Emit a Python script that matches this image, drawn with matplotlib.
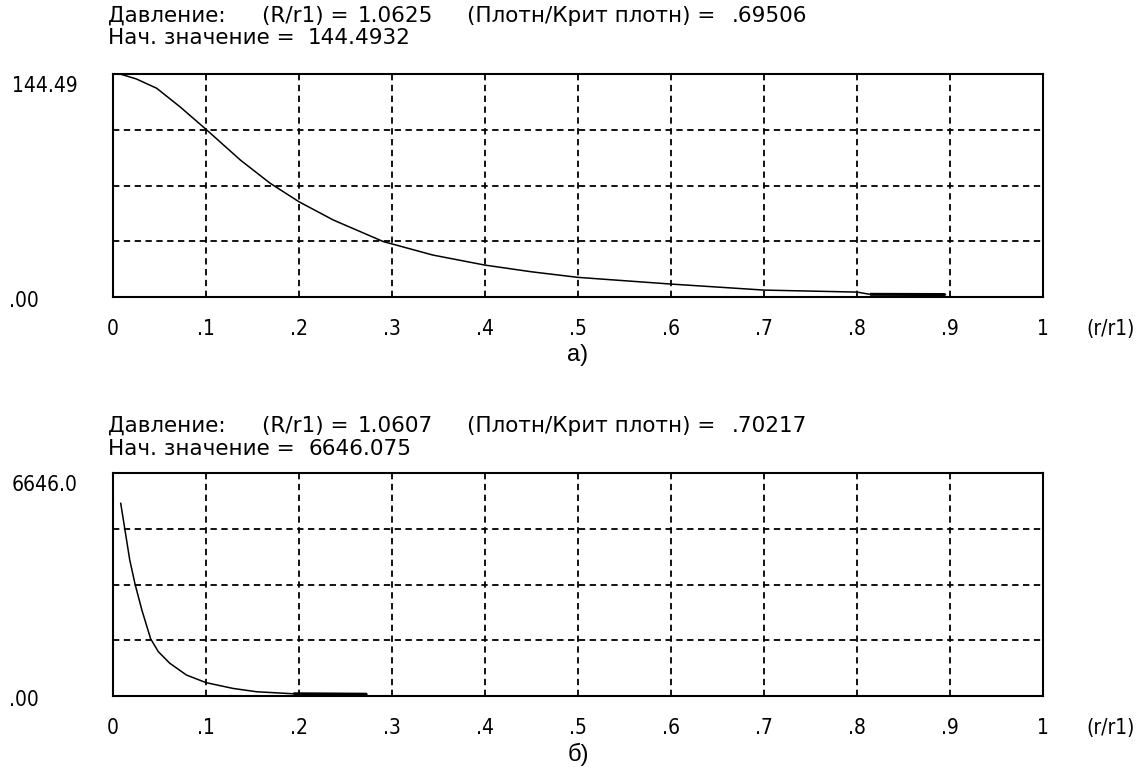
import matplotlib
matplotlib.use("Agg")
import matplotlib.pyplot as plt

# ---------------- data ----------------
x_ticks = [0, 0.1, 0.2, 0.3, 0.4, 0.5, 0.6, 0.7, 0.8, 0.9, 1.0]
x_tick_labels = ["0", ".1", ".2", ".3", ".4", ".5", ".6", ".7", ".8", ".9", "1"]

# chart a)
a_max = 144.4932
a_x = [0.0075, 0.025, 0.047, 0.072, 0.10, 0.137, 0.169, 0.20, 0.237, 0.291, 0.30,
       0.344, 0.40, 0.45, 0.50, 0.60, 0.70, 0.80, 0.814, 0.895]
a_frac = [1.0, 0.978, 0.936, 0.853, 0.752, 0.614, 0.51, 0.427, 0.345, 0.248, 0.238,
          0.188, 0.143, 0.113, 0.088, 0.058, 0.031, 0.022, 0.012, 0.011]
a_y = [f * a_max for f in a_frac]

# chart б)
b_max = 6646.075
b_x = [0.0083, 0.0129, 0.018, 0.0237, 0.031, 0.0405, 0.0487, 0.061, 0.079,
       0.10, 0.129, 0.1545, 0.194, 0.273]
b_frac = [0.864, 0.744, 0.61, 0.502, 0.386, 0.256, 0.199, 0.147, 0.094,
          0.06, 0.034, 0.019, 0.010, 0.008]
b_y = [f * b_max for f in b_frac]

panels = [
    dict(x=a_x, y=a_y, ymax=a_max, top_label="144.49",
         line1=["Давление:", "(R/r1) =", "1.0625", "(Плотн/Крит плотн) =", ".69506"],
         line2=["Нач. значение =", "144.4932"], tag="а)", ty=(16, 38)),
    dict(x=b_x, y=b_y, ymax=b_max, top_label="6646.0",
         line1=["Давление:", "(R/r1) =", "1.0607", "(Плотн/Крит плотн) =", ".70217"],
         line2=["Нач. значение =", "6646.075"], tag="б)", ty=(426, 449)),
]

# ---------------- layout ----------------
W, H = 1146, 775
fig = plt.figure(figsize=(W / 100, H / 100), dpi=100)
plt.rcParams['font.family'] = ['DejaVu Sans']

ax_left, ax_right = 113, 1043
ax_tops = [74, 473]
ax_h = 223
TFS = 15.5        # title font size
NUM = dict(fontsize=15, family=["DejaVu Sans"], fontstretch="condensed")

line1_x = [108, 262, 358, 467, 732]
line2_x = [108, 308]

for p, top in zip(panels, ax_tops):
    bottom = top + ax_h
    ax = fig.add_axes([ax_left / W, 1 - bottom / H, (ax_right - ax_left) / W, ax_h / H])
    ax.plot(p["x"], p["y"], color="black", lw=1.1)
    ax.plot(p["x"][-2:], p["y"][-2:], color="black", lw=2.2, solid_capstyle="butt")
    ax.set_xlim(0, 1)
    ax.set_ylim(0, p["ymax"])
    ax.set_xticks(x_ticks[1:-1])
    ax.set_yticks([p["ymax"] * k / 4 for k in range(1, 4)])
    ax.grid(True, color="black", lw=1.3, linestyle=(0, (3.5, 2.5)))
    ax.tick_params(length=0, labelleft=False, labelbottom=False)
    for s in ax.spines.values():
        s.set_linewidth(1.5)
        s.set_color("black")

    # x tick labels
    for xv, lab in zip(x_ticks, x_tick_labels):
        ax.annotate(lab, xy=(xv, 0), xycoords=("data", "axes fraction"),
                    xytext=(0, -32), textcoords="offset pixels",
                    ha="center", va="center", **NUM)
    ax.annotate("(r/r1)", xy=(1, 0), xycoords="axes fraction",
                xytext=(68, -32), textcoords="offset pixels",
                ha="center", va="center", **NUM)

    # y labels
    ax.annotate(p["top_label"], xy=(0, 1), xycoords="axes fraction",
                xytext=(-101, -12), textcoords="offset pixels",
                ha="left", va="center", **NUM)
    ax.annotate(".00", xy=(0, 0), xycoords="axes fraction",
                xytext=(-104, -4), textcoords="offset pixels",
                ha="left", va="center", **NUM)

    # title lines
    y1, y2 = p["ty"]
    for txt, xp in zip(p["line1"], line1_x):
        fig.text(xp / W, 1 - y1 / H, txt, ha="left", va="center", fontsize=TFS)
    for txt, xp in zip(p["line2"], line2_x):
        fig.text(xp / W, 1 - y2 / H, txt, ha="left", va="center", fontsize=TFS)

    # panel tag
    ax.annotate(p["tag"], xy=(0.5, 0), xycoords="axes fraction",
                xytext=(0, -58), textcoords="offset pixels",
                ha="center", va="center", fontsize=17,
                family=["Liberation Sans", "DejaVu Sans"])

fig.savefig("out.png", dpi=100, facecolor="white")
